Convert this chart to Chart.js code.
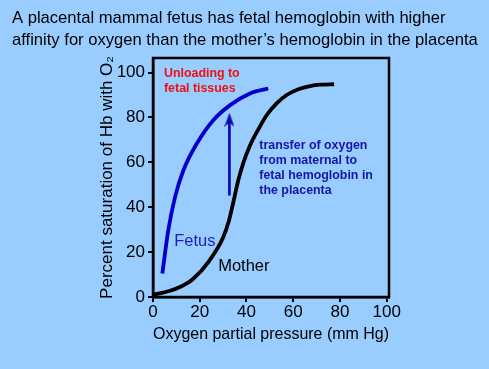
<!DOCTYPE html>
<html lang="en">
<head>
  <meta charset="UTF-8">
  <title>Fetal vs maternal hemoglobin</title>
  <script src="https://cdn.jsdelivr.net/npm/chart.js"></script>
  <style>
    html, body {
      margin: 0;
      padding: 0;
      background: #99ccff;
    }
    canvas {
      display: block;
    }
  </style>
</head>
<body>
  <canvas id="myChart" width="489" height="369"></canvas>

  <script>
    const FONT = "'Liberation Sans', Arial, sans-serif";

    const titleLines = [
      'A placental mammal fetus has fetal hemoglobin with higher',
      'affinity for oxygen than the mother\u2019s hemoglobin in the placenta'
    ];

    // saturation curves
    const fetusX  = [4, 6.5, 9.4, 13, 18.7, 25.8, 33, 41.5, 49.3];
    const fetusY  = [10.5, 29.5, 44.4, 56.4, 68.3, 78.8, 85.5, 90.7, 92.9];
    const motherX = [0, 7, 12, 17, 24, 30, 32.5, 34, 36.5, 38.6, 41.5, 45.5, 48.7, 52.9, 57.2, 62.2, 67.2, 72, 77.5];
    const motherY = [1, 2.7, 4.7, 7.9, 16, 26.5, 34, 40.5, 52, 59.5, 67.5, 75.5, 81.1, 86.3, 90, 92.6, 94, 94.6, 94.8];

    // the up arrow (shaft + head)
    const arrowX = [32.7, 32.7];
    const arrowY = [45.2, 78];
    const arrowHeadY = [79];

    const xTicks = [0, 20, 40, 60, 80, 100];
    const yTicks = [0, 20, 40, 60, 80, 100];

    // text notes placed in data units
    const notes = [
      { lines: ['Unloading to', 'fetal tissues'], x: 4.7, y: 99.4, color: '#ee1111', font: 'bold 12.4px ' + FONT, step: 14.3 },
      { lines: ['Fetus'], x: 9.1, y: 24.6, color: '#1e1ebe', font: '16.5px ' + FONT, step: 0 },
      { lines: ['Mother'], x: 27.9, y: 13.5, color: '#000', font: '16.5px ' + FONT, step: 0 },
      { lines: ['transfer of oxygen', 'from maternal to', 'fetal hemoglobin in', 'the placenta'],
        x: 45.5, y: 67.3, color: '#1616a8', font: 'bold 12.4px ' + FONT, step: 15 }
    ];

    const toPoints = (xs, ys) => xs.map((x, i) => ({ x: x, y: ys[i] }));

    // arrow head drawn once as a little image, used as point style
    const head = document.createElement('canvas');
    head.width = 10;
    head.height = 14;
    const hc = head.getContext('2d');
    hc.fillStyle = '#0a0ab4';
    hc.beginPath();
    hc.moveTo(5, 0);
    hc.lineTo(10, 14);
    hc.lineTo(5, 10);
    hc.lineTo(0, 14);
    hc.closePath();
    hc.fill();

    const boxPlugin = {
      id: 'box',
      afterDatasetsDraw(chart) {
        const { ctx, chartArea: a, scales } = chart;
        ctx.save();
        ctx.strokeStyle = '#000';
        ctx.lineWidth = 2.5;
        ctx.strokeRect(a.left, a.top, a.right - a.left, a.bottom - a.top);

        ctx.textAlign = 'left';
        ctx.textBaseline = 'middle';
        notes.forEach(n => {
          ctx.font = n.font;
          ctx.fillStyle = n.color;
          const px = scales.x.getPixelForValue(n.x);
          const py = scales.y.getPixelForValue(n.y);
          n.lines.forEach((t, i) => ctx.fillText(t, px, py + i * n.step));
        });
        ctx.restore();
      }
    };

    const ctx = document.getElementById('myChart').getContext('2d');
    const chart = new Chart(ctx, {
      type: 'line',
      data: {
        datasets: [
          {
            label: 'Mother',
            data: toPoints(motherX, motherY),
            borderColor: '#000',
            borderWidth: 3.8,
            cubicInterpolationMode: 'monotone',
            pointRadius: 0
          },
          {
            label: 'Fetus',
            data: toPoints(fetusX, fetusY),
            borderColor: '#0000cc',
            borderWidth: 3.8,
            cubicInterpolationMode: 'monotone',
            pointRadius: 0
          },
          {
            label: 'arrow',
            data: toPoints(arrowX, arrowY),
            borderColor: '#0a0ab4',
            borderWidth: 2.7,
            pointRadius: 0
          },
          {
            label: 'arrow head',
            data: toPoints([arrowX[0]], arrowHeadY),
            showLine: false,
            pointStyle: head,
            pointRadius: 6
          }
        ]
      },
      options: {
        responsive: false,
        animation: false,
        devicePixelRatio: 1,
        layout: { padding: { left: 12, right: 0, top: 0, bottom: 0 } },
        plugins: {
          legend: { display: false },
          tooltip: { enabled: false },
          title: {
            display: true,
            text: titleLines,
            align: 'start',
            color: '#000',
            font: { family: FONT, size: 16.6, weight: 'normal', lineHeight: 1.331 },
            padding: { top: 7.35, bottom: 6.45 }
          }
        },
        scales: {
          x: {
            type: 'linear',
            min: 0,
            max: 101,
            afterBuildTicks: s => { s.ticks = xTicks.map(v => ({ value: v })); },
            afterFit: s => { s.height = 72; },
            border: { color: '#000', width: 2.5 },
            grid: { drawOnChartArea: false, tickLength: 5, color: '#000', lineWidth: 2 },
            ticks: { color: '#000', padding: 0, maxRotation: 0, font: { family: FONT, size: 17 } },
            title: {
              display: true,
              text: 'Oxygen partial pressure (mm Hg)',
              color: '#000',
              font: { family: FONT, size: 17 },
              padding: { top: 0, bottom: 24.6 }
            }
          },
          y: {
            min: 0,
            max: 106.5,
            afterBuildTicks: s => { s.ticks = yTicks.map(v => ({ value: v })); },
            afterFit: s => { s.width = 141; },
            border: { color: '#000', width: 2.5 },
            grid: { drawOnChartArea: false, tickLength: 5, color: '#000', lineWidth: 2 },
            ticks: { color: '#000', padding: 3, font: { family: FONT, size: 17 } },
            title: {
              display: true,
              text: 'Percent saturation of Hb with O\u2082',
              color: '#000',
              font: { family: FONT, size: 17 },
              padding: { top: 84.8, bottom: 0 }
            }
          },
          // empty right-hand axis, only keeps the plot box at its width
          spacer: {
            type: 'linear',
            position: 'right',
            afterFit: s => { s.width = 100; },
            border: { display: false },
            grid: { display: false },
            ticks: { display: false }
          }
        }
      },
      plugins: [boxPlugin]
    });
  </script>
</body>
</html>
